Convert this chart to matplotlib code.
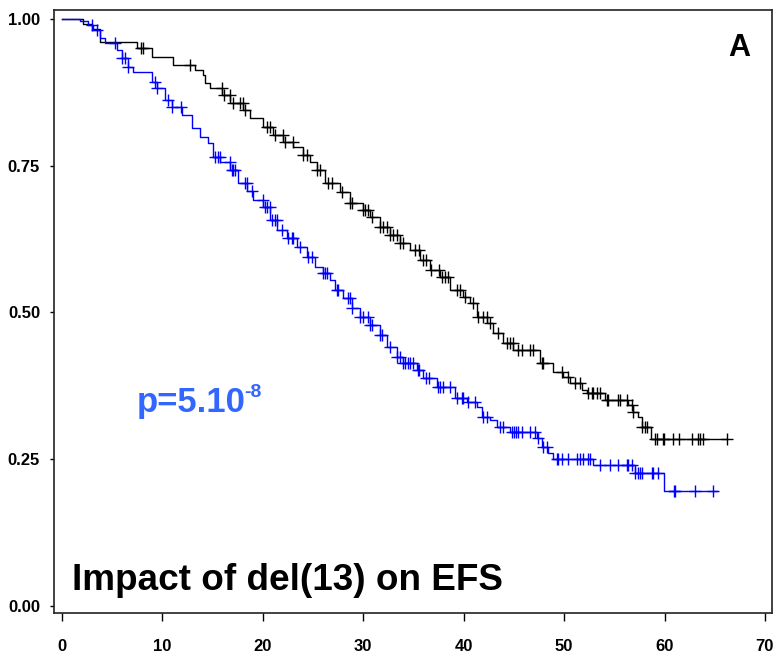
import numpy as np
import matplotlib
matplotlib.use("Agg")
import matplotlib.pyplot as plt

# Kaplan-Meier steps: event times (months) and survival after each step
black_time = [0, 2.09, 2.99, 3.78, 7.47, 8.96, 11.06, 13.25, 14.04, 14.24, 14.74, 15.94,
              16.73, 18.03, 18.73, 20.02, 21.02, 22.01, 23.01, 24.0, 24.7, 25.4, 26.2,
              27.69, 28.69, 29.98, 30.68, 31.67, 32.67, 33.67, 34.66, 35.66, 36.65, 37.65,
              38.65, 39.94, 40.64, 41.33, 42.33, 42.93, 43.92, 44.92, 47.61, 48.90, 49.90,
              50.60, 51.79, 52.29, 54.08, 56.37, 56.87, 57.37, 57.77, 58.67]
black_surv = [1.0, 0.991, 0.983, 0.961, 0.951, 0.935, 0.922, 0.913, 0.905, 0.891, 0.882, 0.871,
              0.857, 0.845, 0.831, 0.816, 0.802, 0.790, 0.782, 0.768, 0.756, 0.743, 0.721,
              0.705, 0.687, 0.675, 0.663, 0.646, 0.632, 0.618, 0.606, 0.589, 0.572, 0.560,
              0.538, 0.526, 0.516, 0.492, 0.482, 0.465, 0.448, 0.436, 0.414, 0.399, 0.390,
              0.380, 0.368, 0.363, 0.351, 0.342, 0.330, 0.322, 0.305, 0.284]
black_end = 66.2
black_censor = [7.9, 8.1, 12.7, 15.9, 16.1, 16.7, 17.0, 17.7, 18.0, 18.2, 20.4, 20.7, 21.2,
                22.0, 22.2, 23.0, 24.0, 24.4, 25.4, 25.7, 26.5, 26.9, 27.9, 28.7, 28.9, 30.0,
                30.2, 30.5, 30.9, 31.7, 32.0, 32.4, 32.7, 33.0, 33.4, 33.7, 34.0, 35.2, 35.5,
                35.9, 36.2, 36.7, 37.5, 37.8, 38.1, 38.4, 39.3, 39.6, 40.1, 40.9, 41.4, 41.9,
                42.3, 42.6, 43.4, 44.3, 44.6, 44.9, 45.4, 45.8, 46.6, 46.9, 47.8, 47.9, 49.8,
                50.4, 51.1, 51.6, 52.4, 52.8, 52.9, 53.3, 53.6, 54.3, 54.4, 55.4, 55.6, 56.3,
                56.8, 56.9, 57.8, 58.1, 58.3, 59.1, 59.3, 59.8, 59.9, 60.8, 61.4, 62.7, 63.3,
                63.5, 63.8, 66.2]

blue_time = [0, 1.79, 2.59, 3.09, 3.78, 4.28, 5.48, 5.98, 6.57, 7.07, 8.96, 9.46, 10.26,
             10.96, 11.95, 12.95, 13.75, 14.54, 15.04, 15.74, 16.73, 17.53, 18.43, 19.02,
             20.02, 20.72, 21.41, 22.41, 23.41, 24.40, 25.20, 26.00, 26.69, 27.19, 27.99,
             28.88, 29.68, 30.68, 31.67, 32.37, 33.37, 33.96, 35.36, 35.96, 37.35, 39.14,
             40.34, 41.33, 41.83, 42.63, 43.33, 44.62, 47.31, 47.81, 48.41, 48.90, 52.89,
             57.07, 59.96]
blue_surv = [1.0, 0.997, 0.990, 0.981, 0.968, 0.959, 0.947, 0.934, 0.918, 0.910, 0.893, 0.882,
             0.862, 0.850, 0.836, 0.814, 0.799, 0.789, 0.765, 0.756, 0.743, 0.721, 0.707,
             0.692, 0.680, 0.658, 0.641, 0.626, 0.612, 0.595, 0.578, 0.567, 0.555, 0.538,
             0.525, 0.508, 0.492, 0.479, 0.462, 0.441, 0.424, 0.414, 0.402, 0.388, 0.373,
             0.354, 0.348, 0.339, 0.322, 0.317, 0.305, 0.296, 0.286, 0.271, 0.261, 0.250,
             0.240, 0.227, 0.196]
blue_end = 65.2
blue_censor = [3.0, 3.5, 5.3, 6.0, 6.3, 6.6, 9.3, 9.5, 10.6, 11.0, 11.8, 15.2, 15.5, 15.7,
               16.7, 16.9, 17.0, 17.2, 18.2, 18.4, 18.9, 20.0, 20.2, 20.4, 20.7, 20.9, 21.2,
               21.4, 21.9, 22.5, 22.9, 23.0, 23.7, 24.5, 24.9, 26.0, 26.2, 26.4, 27.4, 27.5,
               28.5, 28.7, 28.9, 29.7, 30.0, 30.5, 30.7, 30.9, 31.7, 31.9, 32.7, 33.4, 33.7,
               34.0, 34.2, 34.5, 34.7, 35.0, 35.4, 35.5, 36.2, 36.5, 37.4, 37.6, 37.9, 38.6,
               39.3, 39.8, 39.9, 40.4, 41.1, 41.9, 42.3, 43.6, 43.9, 44.8, 45.0, 45.2, 45.4,
               45.8, 46.6, 47.1, 47.4, 47.9, 48.3, 49.3, 49.4, 49.8, 50.4, 51.3, 51.6, 51.9,
               52.4, 52.6, 53.6, 54.6, 55.4, 56.3, 56.4, 56.8, 57.1, 57.4, 57.6, 57.8, 58.8,
               58.9, 59.4, 60.9, 61.0, 63.0, 64.8]

x_ticks = [0, 10, 20, 30, 40, 50, 60, 70]
y_ticks = [0.0, 0.25, 0.5, 0.75, 1.0]
y_labels = ['0.00', '0.25', '0.50', '0.75', '1.00']

tick_family = ['Liberation Sans Narrow', 'Liberation Sans', 'DejaVu Sans']


def draw_km(ax, times, surv, end, censor, color):
    xs = list(times) + [end]
    ys = list(surv) + [surv[-1]]
    ax.step(xs, ys, where='post', color=color, lw=1.0, zorder=3)
    idx = np.searchsorted(times, censor, side='right') - 1
    cy = np.asarray(surv)[idx]
    ax.plot(censor, cy, ls='none', marker='+', ms=9, mew=1.0, color=color, zorder=4)


fig = plt.figure(figsize=(7.76, 6.58), dpi=100)
ax = fig.add_axes([0.0696, 0.0684, 0.9252, 0.9164])

draw_km(ax, black_time, black_surv, black_end, black_censor, 'black')
draw_km(ax, blue_time, blue_surv, blue_end, blue_censor, '#0000ff')

ax.set_xlim(-0.8, 70.7)
ax.set_ylim(-0.012, 1.015)
ax.set_xticks(x_ticks)
ax.set_yticks(y_ticks)
ax.set_yticklabels(y_labels)
for lab in ax.get_xticklabels() + ax.get_yticklabels():
    lab.set_fontfamily(tick_family)
    lab.set_fontweight('bold')
    lab.set_fontsize(12)
ax.tick_params(axis='x', direction='out', length=6, width=1, pad=13)
ax.tick_params(axis='y', direction='out', length=3, width=1, pad=7)
for s in ax.spines.values():
    s.set_linewidth(1.2)
    s.set_color('#222222')

big = ['Liberation Sans', 'Arial', 'DejaVu Sans']
ax.text(0.955, 0.937, 'A', transform=ax.transAxes, ha='center', va='center',
        fontsize=22, fontweight='bold', family=big)
ax.text(0.025, 0.038, 'Impact of del(13) on EFS', transform=ax.transAxes,
        ha='left', va='baseline', fontsize=26.6, fontweight='bold', family=big)

p_color = '#3366ff'
pt = ax.text(0.1156, 0.333, 'p=5.10', transform=ax.transAxes, ha='left', va='baseline',
             fontsize=25, fontweight='bold', family=big, color=p_color)
fig.canvas.draw()
bb = pt.get_window_extent().transformed(ax.transAxes.inverted())
ax.text(bb.x1 - 0.002, 0.333 + 0.025, '-8', transform=ax.transAxes, ha='left',
        va='baseline', fontsize=14, fontweight='bold', family=big, color=p_color)

fig.savefig('out.png', dpi=100)
